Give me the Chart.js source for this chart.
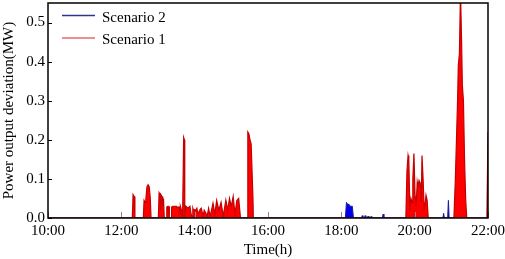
<!DOCTYPE html>
<html lang="en">
<head>
  <meta charset="UTF-8">
  <title>Power output deviation</title>
  <script src="https://cdn.jsdelivr.net/npm/chart.js"></script>
  <style>
    html, body { margin: 0; padding: 0; background: #fff; }
    #wrap { width: 505px; height: 259px; }
  </style>
</head>
<body>
  <div id="wrap"><canvas id="devChart" width="505" height="259"></canvas></div>

  <script>
    // time in hours (10.0 = 10:00), deviation in MW
    const redTime = [10.0, 12.3, 12.32, 12.35, 12.37, 12.6, 12.62, 12.65, 12.67, 12.7, 12.73, 12.76, 12.79, 12.81,
      13.01, 13.03, 13.06, 13.07, 13.08, 13.11, 13.13, 13.15, 13.17,
      13.23, 13.24, 13.27, 13.29, 13.3, 13.31,
      13.36, 13.37, 13.41, 13.47, 13.5, 13.52, 13.58, 13.6, 13.61, 13.64, 13.67,
      13.68, 13.7, 13.72, 13.73,
      13.76, 13.82, 13.87, 13.9, 13.93,
      13.95, 13.96, 14.03, 14.06, 14.09, 14.15, 14.18, 14.23, 14.26, 14.29, 14.34,
      14.38, 14.42, 14.46, 14.5, 14.55, 14.6, 14.66, 14.72, 14.78, 14.85, 14.9, 14.95, 15.0, 15.05, 15.1, 15.15, 15.2, 15.25,
      15.43, 15.45, 15.48, 15.51, 15.54, 15.59, 15.6,
      19.76, 19.79, 19.82, 19.84, 19.87, 19.9, 19.93, 19.95, 19.98, 20.01, 20.04, 20.07, 20.09, 20.12, 20.15, 20.18, 20.2, 20.23, 20.26, 20.29, 20.31, 20.34, 20.37,
      21.07, 21.11, 21.14, 21.17, 21.19, 21.22, 21.25, 21.28, 21.3, 21.33, 21.36, 21.39, 21.42, 21.97, 22.0];
    const redValue = [0, 0, 0.06, 0.055, 0, 0, 0.045, 0.04, 0.05, 0.08, 0.085, 0.08, 0.05, 0,
      0, 0.065, 0.06, 0.02, 0.06, 0.055, 0.03, 0.05, 0,
      0, 0.028, 0.03, 0.01, 0.03, 0,
      0, 0.028, 0.03, 0.03, 0.03, 0.028, 0.028, 0.01, 0.03, 0.02, 0,
      0, 0.206, 0.2, 0,
      0.03, 0.025, 0.03, 0.012, 0,
      0.025, 0.022, 0.02, 0.025, 0.01, 0.022, 0.025, 0.005, 0.02, 0.015, 0.005,
      0.025, 0.004, 0.02, 0.038, 0.01, 0.045, 0.02, 0.04, 0.005, 0.046, 0.02, 0.05, 0.03, 0.055, 0.01, 0.045, 0.05, 0,
      0, 0.22, 0.215, 0.2, 0.19, 0.05, 0,
      0, 0.12, 0.16, 0.15, 0.02, 0.05, 0.04, 0.1, 0.165, 0.06, 0.03, 0.092, 0.08, 0.096, 0.09, 0.04, 0.16, 0.1, 0.02, 0.04, 0.058, 0.045, 0,
      0, 0.1, 0.2, 0.3, 0.39, 0.42, 0.58, 0.45, 0.34, 0.3, 0.15, 0.05, 0, 0, 0.22];

    const blueTime = [10.0, 14.0, 14.02, 14.04, 14.63, 14.65, 14.67, 15.17, 15.19, 15.21,
      15.5, 15.52, 15.55, 15.57,
      18.11, 18.14, 18.17, 18.21, 18.24, 18.27, 18.3, 18.33,
      18.55, 18.57, 18.59, 18.63, 18.65, 18.67, 18.71, 18.73, 18.75, 18.79, 18.81, 18.83,
      19.12, 19.14, 19.16,
      20.77, 20.79, 20.81, 20.9, 20.92, 20.94, 22.0];
    const blueValue = [0, 0, 0.006, 0, 0, 0.005, 0, 0, 0.006, 0,
      0, 0.035, 0.03, 0,
      0, 0.04, 0.035, 0.035, 0.03, 0.03, 0.03, 0,
      0, 0.006, 0, 0, 0.006, 0, 0, 0.005, 0, 0, 0.004, 0,
      0, 0.01, 0,
      0, 0.012, 0, 0, 0.045, 0, 0];

    const seriesNames = ['Scenario 2', 'Scenario 1'];
    const xTickHours = [10, 12, 14, 16, 18, 20, 22];
    const yTickValues = [0.0, 0.1, 0.2, 0.3, 0.4, 0.5];

    const serif = '"Liberation Serif", "Times New Roman", serif';

    function toPoints(t, v) {
      return t.map(function(x, i) { return { x: x, y: v[i] }; });
    }

    // box around plot, inward tick marks and the legend inside the plot
    const framePlugin = {
      id: 'frame',
      afterDraw: function(chart) {
        const ctx = chart.ctx;
        const a = chart.chartArea;
        const xs = chart.scales.x;
        const ys = chart.scales.y;
        ctx.save();
        // x ticks (inward)
        ctx.strokeStyle = '#8a8a8a';
        ctx.lineWidth = 1;
        xTickHours.forEach(function(h) {
          const px = Math.round(xs.getPixelForValue(h)) + 0.5;
          ctx.beginPath();
          ctx.moveTo(px, a.bottom);
          ctx.lineTo(px, a.bottom - 6);
          ctx.stroke();
        });
        // y ticks (inward)
        ctx.strokeStyle = '#000';
        yTickValues.forEach(function(v) {
          const py = Math.round(ys.getPixelForValue(v)) + 0.5;
          ctx.beginPath();
          ctx.moveTo(a.left, py);
          ctx.lineTo(a.left + 4, py);
          ctx.stroke();
        });
        // box
        ctx.lineWidth = 1.5;
        ctx.strokeStyle = '#000';
        ctx.strokeRect(a.left, a.top, a.right - a.left, a.bottom - a.top);

        // legend
        const legendColors = ['#33338a', '#e86a6a'];
        const rows = [15.5, 38];
        ctx.font = '15px ' + serif;
        ctx.textBaseline = 'middle';
        ctx.fillStyle = '#000';
        seriesNames.forEach(function(name, i) {
          ctx.strokeStyle = legendColors[i];
          ctx.lineWidth = 1.5;
          ctx.beginPath();
          ctx.moveTo(62, rows[i]);
          ctx.lineTo(95, rows[i]);
          ctx.stroke();
          ctx.fillText(name, 102, rows[i] + 2.5);
        });
        ctx.restore();
      }
    };

    new Chart(document.getElementById('devChart'), {
      type: 'line',
      data: {
        datasets: [
          {
            label: seriesNames[0],
            data: toPoints(blueTime, blueValue),
            borderColor: '#1a1aa0',
            backgroundColor: '#0000ee',
            borderWidth: 1,
            fill: 'origin',
            pointRadius: 0,
            tension: 0,
            order: 2
          },
          {
            label: seriesNames[1],
            data: toPoints(redTime, redValue),
            borderColor: '#c40000',
            backgroundColor: '#ff0000',
            borderWidth: 1.2,
            fill: 'origin',
            pointRadius: 0,
            tension: 0,
            order: 1
          }
        ]
      },
      options: {
        responsive: false,
        devicePixelRatio: 1,
        animation: false,
        layout: { padding: { top: 3, right: 17, left: 0, bottom: 0 } },
        plugins: {
          legend: { display: false },
          tooltip: { enabled: false }
        },
        scales: {
          x: {
            type: 'linear',
            min: 10,
            max: 22,
            grid: { display: false, drawTicks: false },
            border: { display: false },
            ticks: {
              stepSize: 2,
              padding: 4,
              color: '#000',
              font: { family: serif, size: 15 },
              callback: function(v) { return v + ':00'; }
            },
            title: {
              display: true,
              text: 'Time(h)',
              color: '#000',
              padding: { top: 0, bottom: 0 },
              font: { family: serif, size: 15 }
            },
            afterFit: function(scale) {
              scale.height = 41;
              scale.paddingLeft = 0;
              scale.paddingRight = 0;
            }
          },
          y: {
            min: 0,
            max: 0.55,
            grid: { display: false, drawTicks: false },
            border: { display: false },
            ticks: {
              stepSize: 0.1,
              includeBounds: false,
              padding: 3,
              color: '#000',
              font: { family: serif, size: 15 },
              callback: function(v) { return Number(v).toFixed(1); }
            },
            title: {
              display: true,
              text: 'Power output deviation(MW)',
              color: '#000',
              padding: { top: 0, bottom: 0 },
              font: { family: serif, size: 15 }
            },
            afterFit: function(scale) {
              scale.width = 48;
              scale.paddingTop = 0;
              scale.paddingBottom = 0;
            }
          }
        }
      },
      plugins: [framePlugin]
    });
  </script>
</body>
</html>
